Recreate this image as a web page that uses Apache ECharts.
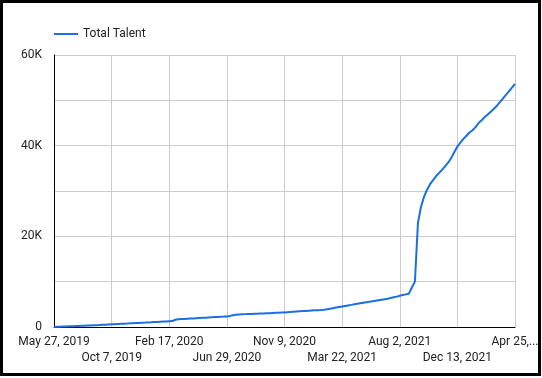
<!DOCTYPE html>
<html>
<head>
<meta charset="utf-8">
<script src="https://cdn.jsdelivr.net/npm/echarts@6/dist/echarts.min.js"></script>
<style>
html,body{margin:0;padding:0;background:#fff;}
#chart{position:absolute;left:0;top:0;width:542px;height:378px;}
#frame{position:absolute;left:0;top:0;width:541px;height:376px;box-sizing:border-box;border:3px solid #000;pointer-events:none;}
</style>
</head>
<body>
<div id="chart"></div>
<div id="frame"></div>
<script>
// Weekly series starting May 27, 2019
var startDate = '2019-05-27';
var seriesName = 'Total Talent';
var totalTalent = [
  0, 30, 60, 90, 120, 150, 180, 200, 230, 260,
  290, 320, 350, 380, 410, 440, 480, 510, 550, 590,
  620, 660, 690, 730, 760, 800, 830, 870, 900, 940,
  970, 1010, 1040, 1080, 1110, 1150, 1190, 1220, 1260, 1300,
  1600, 1700, 1740, 1780, 1820, 1860, 1900, 1940, 1980, 2020,
  2060, 2100, 2140, 2180, 2210, 2250, 2290, 2340, 2450, 2600,
  2720, 2780, 2810, 2840, 2870, 2890, 2920, 2950, 2980, 3000,
  3030, 3060, 3090, 3120, 3150, 3180, 3210, 3260, 3310, 3360,
  3410, 3460, 3510, 3550, 3600, 3640, 3680, 3720, 3770, 3830,
  3900, 4020, 4150, 4280, 4400, 4520, 4640, 4760, 4880, 5000,
  5120, 5240, 5350, 5460, 5570, 5680, 5790, 5900, 6000, 6120,
  6250, 6400, 6550, 6700, 6900, 7050, 7200, 7350, 8700, 10000,
  23000, 26500, 28700, 30300, 31500, 32400, 33300, 34000, 34700, 35500,
  36300, 37300, 38600, 39800, 40700, 41500, 42200, 42900, 43400, 44100,
  45000, 45600, 46300, 46900, 47500, 48100, 48800, 49600, 50400, 51200,
  52000, 52800, 53600
];
var tickLabels = ['May 27, 2019','Oct 7, 2019','Feb 17, 2020','Jun 29, 2020','Nov 9, 2020','Mar 22, 2021','Aug 2, 2021','Dec 13, 2021','Apr 25,...'];
var yTickLabels = {0:'0', 20000:'20K', 40000:'40K', 60000:'60K'};

var months = ['Jan','Feb','Mar','Apr','May','Jun','Jul','Aug','Sep','Oct','Nov','Dec'];
var categories = [];
var t0 = Date.parse(startDate + 'T00:00:00Z');
for (var i = 0; i < totalTalent.length; i++) {
  var d = new Date(t0 + i * 7 * 86400000);
  categories.push(months[d.getUTCMonth()] + ' ' + d.getUTCDate() + ', ' + d.getUTCFullYear());
}
var step = 19;

function rowFormatter(row) {
  return function (v, idx) {
    var k = Math.round(idx / step);
    if (k % 2 !== row) return '';
    return tickLabels[k] || v;
  };
}

var chart = echarts.init(document.getElementById('chart'), null, {renderer:'canvas'});
chart.setOption({
  animation: false,
  textStyle: {fontFamily: 'Roboto, Arial, sans-serif'},
  legend: {
    left: 54, top: 28, padding: 0,
    itemWidth: 24, itemHeight: 14, itemGap: 10,
    icon: 'path://M0,6 L24,6 L24,8 L0,8 Z',
    textStyle: {fontSize: 12, color: '#222', fontFamily: 'Roboto, Arial, sans-serif'},
    data: [seriesName]
  },
  grid: {left: 54, right: 27, top: 55, bottom: 51, containLabel: false},
  xAxis: [{
    type: 'category',
    data: categories,
    boundaryGap: false,
    axisLine: {show: true, lineStyle: {color: '#000', width: 1}},
    axisTick: {show: false},
    axisLabel: {
      interval: step - 1,
      margin: 9,
      fontSize: 12,
      color: '#222',
      showMinLabel: true,
      showMaxLabel: true,
      formatter: rowFormatter(0)
    },
    splitLine: {show: true, interval: step - 1, lineStyle: {color: '#cccccc', width: 1}}
  }, {
    type: 'category',
    position: 'bottom',
    data: categories,
    boundaryGap: false,
    axisLine: {show: false},
    axisTick: {show: false},
    splitLine: {show: false},
    axisLabel: {
      interval: step - 1,
      margin: 25,
      fontSize: 12,
      color: '#222',
      formatter: rowFormatter(1)
    }
  }],
  yAxis: {
    type: 'value',
    min: 0, max: 60000, interval: 10000,
    axisLine: {show: true, lineStyle: {color: '#000', width: 1}},
    axisTick: {show: false},
    axisLabel: {
      margin: 12, fontSize: 12, color: '#222',
      formatter: function (v) { return yTickLabels.hasOwnProperty(v) ? yTickLabels[v] : ''; }
    },
    splitLine: {show: true, lineStyle: {color: '#cccccc', width: 1}}
  },
  series: [{
    name: seriesName,
    type: 'line',
    xAxisIndex: 0,
    data: totalTalent,
    symbol: 'none',
    lineStyle: {color: '#1a6ee6', width: 2},
    itemStyle: {color: '#1a6ee6'}
  }]
});
</script>
</body>
</html>
